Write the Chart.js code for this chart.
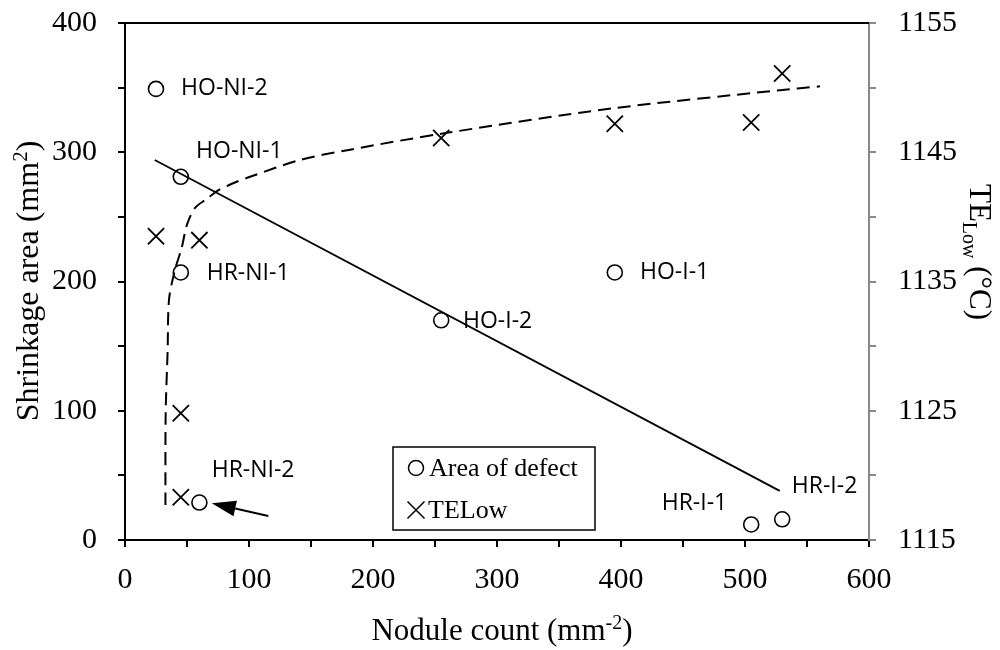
<!DOCTYPE html>
<html><head><meta charset="utf-8">
<script src="https://cdn.jsdelivr.net/npm/chart.js@4.4.1/dist/chart.umd.min.js"></script>
<style>html,body{margin:0;padding:0;background:#fff}</style>
</head><body>
<canvas id="c" width="1000" height="650"></canvas>
<script>
// ---- data ----
const sampleNames = ['HO-NI-2','HO-NI-1','HR-NI-1','HO-I-2','HR-NI-2','HO-I-1','HR-I-1','HR-I-2'];
const areaX = [25, 45, 45, 255, 60, 395, 505, 530];
const areaY = [349, 281, 207, 170, 29, 207, 12, 16];
const teX = [25, 60, 45, 45, 255, 395, 505, 530];
const teY = [1138.5, 1138.2, 1124.8, 1118.3, 1146.1, 1147.2, 1147.3, 1151.1];
const areaFitX = [24, 528];
const areaFitY = [294, 38];
const teFitX = [32.6, 32.8, 34.4, 35.5, 40.3, 45.7, 50.0, 56.5, 66.1, 74.2, 87.1, 100.8, 141.1, 181.5, 259.4, 393.8, 528.2, 560.5];
const teFitY = [1117.7, 1124.8, 1129.7, 1133.6, 1135.9, 1137.6, 1139.4, 1140.7, 1141.4, 1142.0, 1142.6, 1143.1, 1144.4, 1145.2, 1146.5, 1148.4, 1149.8, 1150.1];
const xTickLabels = [0, 100, 200, 300, 400, 500, 600];
const yTickLabels = [0, 100, 200, 300, 400];
const y2TickLabels = [1115, 1125, 1135, 1145, 1155];
// annotation anchors (data units of x / left axis)
const labelAnchorX = [45.2, 57.3, 65.9, 272.6, 69.9, 415.3, 432.8, 537.7];
const labelAnchorY = [349.7, 301, 206.3, 169.4, 53.6, 207.1, 27.9, 41.2];
const arrowX = [115.6, 70];
const arrowY = [18.6, 28.4];

const pts = (xs, ys) => xs.map((x, i) => ({x, y: ys[i]}));
const SERIF = '"Liberation Serif", "Times New Roman", serif';
const SANS = '"Open Sans", "Noto Sans", sans-serif';
const GRAY = '#898989';

function drawRich(ctx, parts, cx, cy, angle, base) {
  ctx.save();
  ctx.translate(cx, cy);
  ctx.rotate(angle);
  let total = 0;
  parts.forEach(p => { ctx.font = p.size + 'px ' + SERIF; total += ctx.measureText(p.t).width; });
  let x = -total / 2;
  ctx.textBaseline = 'alphabetic';
  ctx.textAlign = 'left';
  ctx.fillStyle = '#000';
  parts.forEach(p => {
    ctx.font = p.size + 'px ' + SERIF;
    ctx.fillText(p.t, x, base * 0.33 + (p.dy || 0));
    x += ctx.measureText(p.t).width;
  });
  ctx.restore();
}

const deco = {
  id: 'deco',
  afterDatasetsDraw(chart) {
    const ctx = chart.ctx, xs = chart.scales.x, ys = chart.scales.y;
    ctx.save();
    ctx.font = '23px ' + SANS;
    ctx.fillStyle = '#000';
    ctx.textBaseline = 'middle';
    ctx.textAlign = 'left';
    sampleNames.forEach((n, i) => {
      ctx.fillText(n, xs.getPixelForValue(labelAnchorX[i]), ys.getPixelForValue(labelAnchorY[i]));
    });
    const x1 = xs.getPixelForValue(arrowX[0]), y1 = ys.getPixelForValue(arrowY[0]);
    const x2 = xs.getPixelForValue(arrowX[1]), y2 = ys.getPixelForValue(arrowY[1]);
    const L = Math.hypot(x2 - x1, y2 - y1), ux = (x2 - x1) / L, uy = (y2 - y1) / L;
    const hl = 24, hw = 8;
    ctx.strokeStyle = '#000'; ctx.lineWidth = 2;
    ctx.beginPath(); ctx.moveTo(x1, y1); ctx.lineTo(x2 - ux * hl, y2 - uy * hl); ctx.stroke();
    ctx.beginPath();
    ctx.moveTo(x2, y2);
    ctx.lineTo(x2 - ux * hl - uy * hw, y2 - uy * hl + ux * hw);
    ctx.lineTo(x2 - ux * hl + uy * hw, y2 - uy * hl - ux * hw);
    ctx.closePath(); ctx.fillStyle = '#000'; ctx.fill();
    ctx.restore();
  },
  afterDraw(chart) {
    const ctx = chart.ctx, a = chart.chartArea;
    ctx.save();
    ctx.strokeStyle = '#000'; ctx.lineWidth = 2;
    ctx.beginPath(); ctx.moveTo(a.left - 1, a.top); ctx.lineTo(a.right, a.top); ctx.stroke();
    ctx.lineWidth = 1.5;
    ctx.strokeRect(393, 447, 202, 83);
    ctx.beginPath(); ctx.arc(416, 468, 7.5, 0, Math.PI * 2); ctx.stroke();
    ctx.beginPath();
    ctx.moveTo(407.5, 501.5); ctx.lineTo(424.5, 518.5);
    ctx.moveTo(424.5, 501.5); ctx.lineTo(407.5, 518.5); ctx.stroke();
    ctx.fillStyle = '#000';
    ctx.font = '26px ' + SERIF; ctx.textBaseline = 'middle'; ctx.textAlign = 'left';
    ctx.fillText('Area of defect', 429, 469);
    ctx.fillText('TELow', 428, 511);
    ctx.restore();
    drawRich(ctx, [{t: 'Nodule count (mm', size: 31}, {t: '-2', size: 20, dy: -11}, {t: ')', size: 31}], 502, 630, 0, 31);
    drawRich(ctx, [{t: 'Shrinkage area (mm', size: 32}, {t: '2', size: 21, dy: -11}, {t: ')', size: 32}], 27, 281, -Math.PI / 2, 32);
    drawRich(ctx, [{t: 'TE', size: 31}, {t: 'Low', size: 20, dy: 7}, {t: ' (\u00B0C)', size: 31}], 980, 252, Math.PI / 2, 31);
  }
};

const axisBase = (color) => ({
  grid: {display: true, drawOnChartArea: false, drawTicks: true, tickLength: 7, color: color, lineWidth: 2},
  border: {display: true, color: color, width: 2},
});

new Chart(document.getElementById('c'), {
  type: 'scatter',
  data: {
    datasets: [
      {label: 'Area of defect', data: pts(areaX, areaY), yAxisID: 'y', pointStyle: 'circle', pointRadius: 7.5,
       pointBorderWidth: 1.6, borderColor: '#000', backgroundColor: 'rgba(255,255,255,0)', showLine: false},
      {label: 'TELow', data: pts(teX, teY), yAxisID: 'y2', pointStyle: 'crossRot', pointRadius: 11.5,
       pointBorderWidth: 1.8, borderColor: '#000', backgroundColor: '#000', showLine: false},
      {label: 'area fit', data: pts(areaFitX, areaFitY), yAxisID: 'y', showLine: true, pointRadius: 0,
       borderColor: '#000', borderWidth: 1.8, fill: false},
      {label: 'TELow fit', data: pts(teFitX, teFitY), yAxisID: 'y2', showLine: true, pointRadius: 0,
       borderColor: '#000', borderWidth: 2, borderDash: [13, 7], tension: 0.3, fill: false}
    ]
  },
  options: {
    responsive: false, animation: false, devicePixelRatio: 1,
    layout: {padding: {top: 23, left: 0, right: 0, bottom: 0}},
    plugins: {legend: {display: false}, tooltip: {enabled: false}, title: {display: false}},
    scales: {
      x: Object.assign(axisBase('#000'), {
        type: 'linear', position: 'bottom', min: 0, max: 600,
        ticks: {stepSize: 50, autoSkip: false, maxRotation: 0, minRotation: 0, padding: 15, color: '#000',
          font: {family: SERIF, size: 30},
          callback: v => xTickLabels.includes(v) ? String(v) : ''},
        afterFit: s => { s.height = 110; s.paddingLeft = 0; s.paddingRight = 0; }
      }),
      y: Object.assign(axisBase('#000'), {
        type: 'linear', position: 'left', min: 0, max: 400,
        ticks: {stepSize: 50, autoSkip: false, padding: 21, color: '#000',
          font: {family: SERIF, size: 30},
          callback: v => yTickLabels.includes(v) ? String(v) : ''},
        afterFit: s => { s.width = 125; s.paddingTop = 0; s.paddingBottom = 0; }
      }),
      y2: Object.assign(axisBase(GRAY), {
        type: 'linear', position: 'right', min: 1115, max: 1155,
        ticks: {stepSize: 5, autoSkip: false, padding: 22, color: '#000',
          font: {family: SERIF, size: 30},
          callback: v => y2TickLabels.includes(Math.round(v)) ? String(Math.round(v)) : ''},
        afterFit: s => { s.width = 131; s.paddingTop = 0; s.paddingBottom = 0; }
      })
    }
  },
  plugins: [deco]
});
</script>
</body></html>
